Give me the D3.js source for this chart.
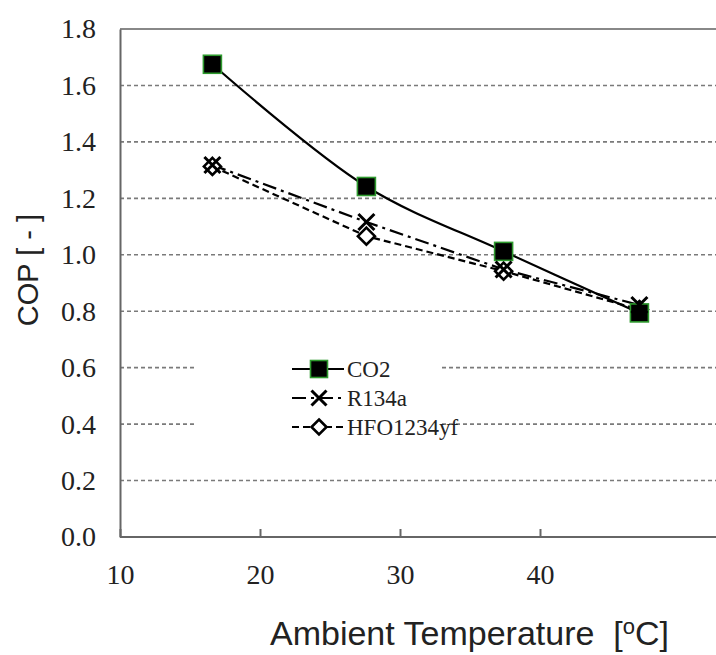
<!DOCTYPE html>
<html>
<head>
<meta charset="utf-8">
<script src="https://cdn.jsdelivr.net/npm/d3@7"></script>
<style>
  body { margin: 0; background: #fff; }
  .tick text { font-family: "Liberation Serif", "Times New Roman", serif; fill: #222; }
  .axis-title { font-family: "Liberation Sans", Arial, sans-serif; fill: #222; }
</style>
</head>
<body>
<script>
// data
var xTicks = [10, 20, 30, 40];
var yTicks = [0, 0.2, 0.4, 0.6, 0.8, 1.0, 1.2, 1.4, 1.6, 1.8];
var temps = [16.6, 27.6, 37.4, 47.1];
var co2 = [1.675, 1.242, 1.012, 0.794];
var r134a = [1.318, 1.116, 0.948, 0.822];
var hfo = [1.313, 1.066, 0.942, 0.806];
var seriesNames = ['CO2', 'R134a', 'HFO1234yf'];

var svgWidth = 716, svgHeight = 655;
var plotLeft = 120, plotTop = 29, plotBottom = 537;

var svg = d3.select('body')
    .append('svg')
    .attr('width', svgWidth)
    .attr('height', svgHeight);

var xScale = d3.scaleLinear()
    .domain([10, 50])
    .range([plotLeft, plotLeft + 560]);

var yScale = d3.scaleLinear()
    .domain([0, 1.8])
    .range([plotBottom, plotTop]);

// dashed gridlines
svg.append('g')
    .selectAll('line')
    .data(yTicks.slice(1, -1))
    .enter().append('line')
    .attr('x1', plotLeft)
    .attr('x2', svgWidth)
    .attr('y1', function(d) { return yScale(d); })
    .attr('y2', function(d) { return yScale(d); })
    .attr('stroke', '#7a7a7a')
    .attr('stroke-width', 1.6)
    .attr('stroke-dasharray', '4,3');

// top border
svg.append('line')
    .attr('x1', plotLeft).attr('x2', svgWidth)
    .attr('y1', yScale(1.8)).attr('y2', yScale(1.8))
    .attr('stroke', '#888').attr('stroke-width', 2);

// axes
var yAxis = svg.append('g')
    .attr('transform', 'translate(' + plotLeft + ',0)')
    .call(d3.axisLeft(yScale)
        .tickValues(yTicks)
        .tickFormat(d3.format('.1f'))
        .tickSize(0)
        .tickPadding(24));

var xAxis = svg.append('g')
    .attr('transform', 'translate(0,' + plotBottom + ')')
    .call(d3.axisBottom(xScale)
        .tickValues(xTicks)
        .tickSizeInner(-8)
        .tickSizeOuter(0)
        .tickPadding(27));

svg.selectAll('.domain').attr('stroke', '#666').attr('stroke-width', 2);
xAxis.selectAll('.tick line').attr('stroke', '#666').attr('stroke-width', 2);
svg.selectAll('.tick text').style('font-size', '28px');
xAxis.select('.domain').attr('d', 'M' + plotLeft + ',0H' + svgWidth);

// axis titles
svg.append('text')
    .attr('class', 'axis-title')
    .attr('transform', 'translate(38,270) rotate(-90)')
    .attr('text-anchor', 'middle')
    .style('font-size', '29px')
    .text('COP [ - ]');

var xt = svg.append('text')
    .attr('class', 'axis-title')
    .attr('x', 270)
    .attr('y', 645)
    .style('font-size', '34px');
xt.append('tspan').text('Ambient Temperature\u00a0\u00a0[');
xt.append('tspan').attr('dy', -11).style('font-size', '22px').text('o');
xt.append('tspan').attr('dy', 11).text('C]');

// lines
var smoothLine = d3.line()
    .x(function(d, i) { return xScale(temps[i]); })
    .y(function(d) { return yScale(d); })
    .curve(d3.curveCatmullRom.alpha(0.5));

var straightLine = d3.line()
    .x(function(d, i) { return xScale(temps[i]); })
    .y(function(d) { return yScale(d); });

svg.append('path').datum(hfo)
    .attr('d', straightLine)
    .attr('fill', 'none').attr('stroke', '#000')
    .attr('stroke-width', 2.2).attr('stroke-dasharray', '7,4');

svg.append('path').datum(r134a)
    .attr('d', straightLine)
    .attr('fill', 'none').attr('stroke', '#000')
    .attr('stroke-width', 2.2).attr('stroke-dasharray', '14,5,3,5');

svg.append('path').datum(co2)
    .attr('d', smoothLine)
    .attr('fill', 'none').attr('stroke', '#000')
    .attr('stroke-width', 2.2);

// markers
function square(g, size) {
    g.append('rect')
        .attr('x', -size / 2).attr('y', -size / 2)
        .attr('width', size).attr('height', size)
        .attr('fill', '#000').attr('stroke', '#2e9a2e').attr('stroke-width', 1.6);
}
function cross(g, size) {
    var h = size / 2;
    g.append('path')
        .attr('d', 'M' + (-h) + ',' + (-h) + 'L' + h + ',' + h + 'M' + (-h) + ',' + h + 'L' + h + ',' + (-h))
        .attr('stroke', '#000').attr('stroke-width', 3).attr('fill', 'none');
}
function diamond(g, size) {
    var h = size / 2;
    g.append('path')
        .attr('d', 'M0,' + (-h) + 'L' + h + ',0L0,' + h + 'L' + (-h) + ',0Z')
        .attr('stroke', '#000').attr('stroke-width', 2.6).attr('fill', '#fff');
}

function markers(values, draw, size) {
    svg.append('g')
        .selectAll('g')
        .data(values)
        .enter().append('g')
        .attr('transform', function(d, i) {
            return 'translate(' + xScale(temps[i]) + ',' + yScale(d) + ')';
        })
        .each(function() { draw(d3.select(this), size); });
}

markers(hfo, diamond, 17);
markers(co2, square, 18);
markers(r134a, cross, 16);

// legend
var legend = svg.append('g').attr('transform', 'translate(292,369)');
legend.append('rect')
    .attr('x', -95).attr('y', -32)
    .attr('width', 245).attr('height', 116)
    .attr('fill', '#fff');

var legendDash = [null, '14,5,3,5', '7,4'];
var legendDraw = [square, cross, diamond];
var legendSize = [17, 15, 15];

seriesNames.forEach(function(name, i) {
    var row = legend.append('g').attr('transform', 'translate(0,' + (i * 29) + ')');
    row.append('line')
        .attr('x1', 0).attr('x2', 52)
        .attr('stroke', '#000').attr('stroke-width', 2.2)
        .attr('stroke-dasharray', legendDash[i]);
    var m = row.append('g').attr('transform', 'translate(27,0)');
    legendDraw[i](m, legendSize[i]);
    row.append('text')
        .attr('x', 55).attr('y', 8)
        .style('font-family', '"Liberation Serif", "Times New Roman", serif')
        .style('font-size', '23px')
        .attr('fill', '#222')
        .text(name);
});
</script>
</body>
</html>
